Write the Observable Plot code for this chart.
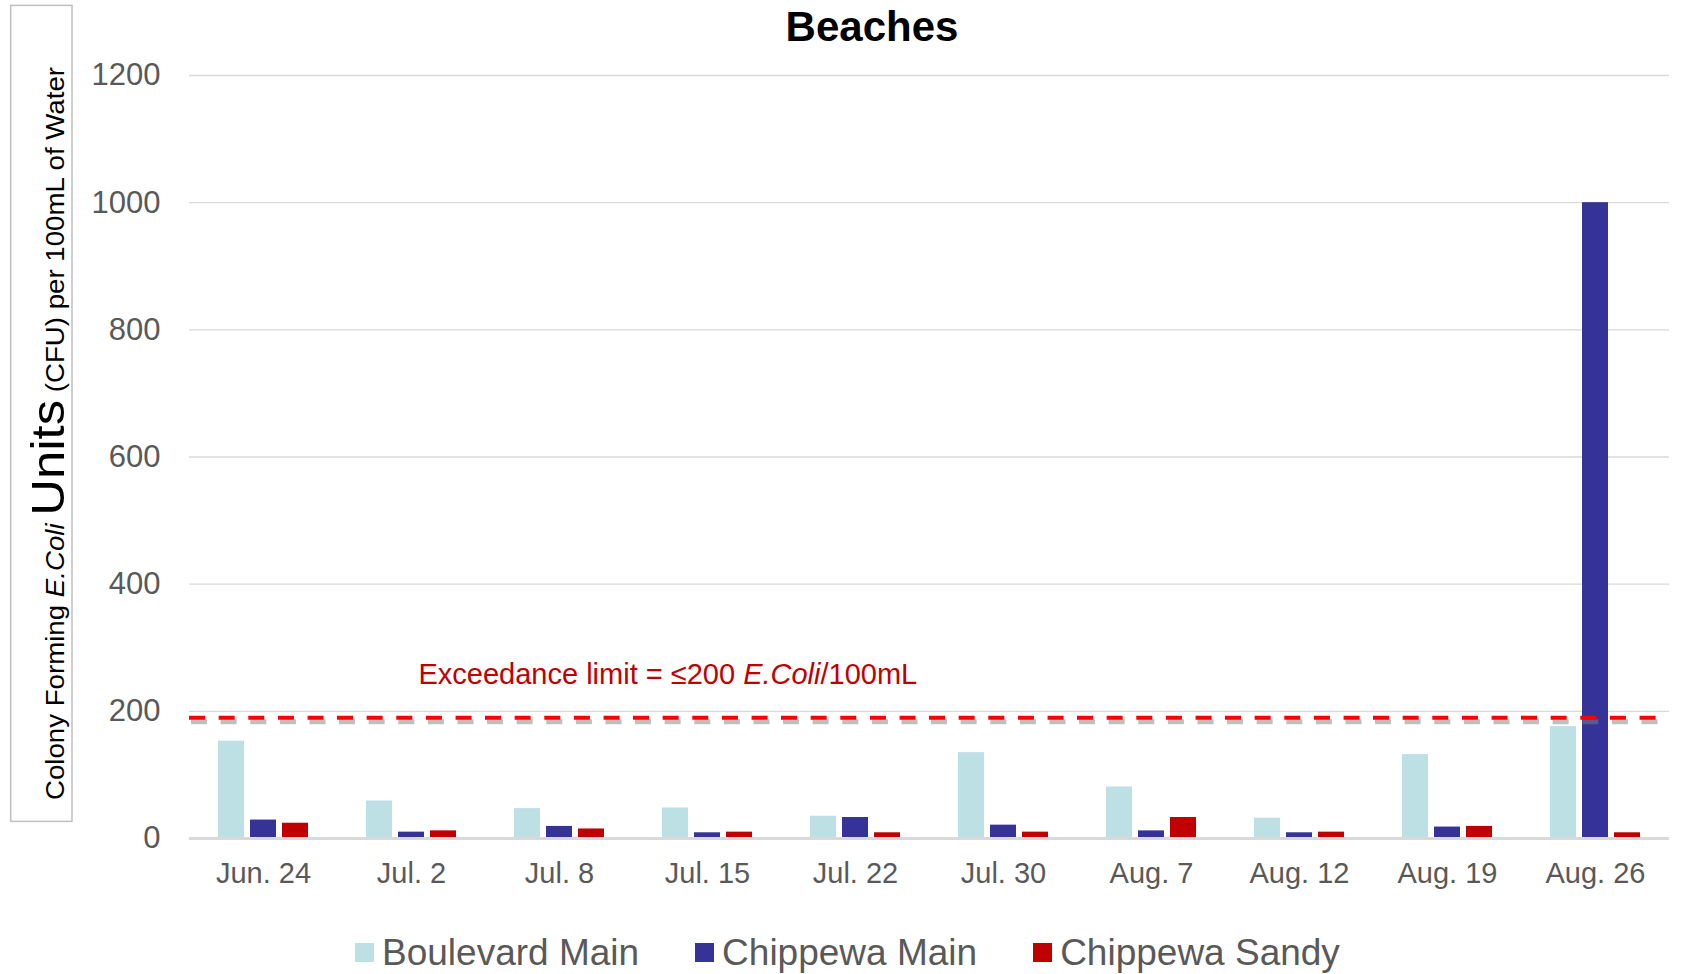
<!DOCTYPE html>
<html><head><meta charset="utf-8">
<script src="https://cdn.jsdelivr.net/npm/d3@7"></script>
<script src="https://cdn.jsdelivr.net/npm/@observablehq/plot@0.6"></script>
<style>
html,body{margin:0;padding:0;background:#fff;overflow:hidden;}
#wrap{position:relative;width:1684px;height:974px;font-family:"Liberation Sans",Arial,sans-serif;}
#chart{position:absolute;left:0;top:0;}
#overlay{position:absolute;left:0;top:0;pointer-events:none;}
#legend{position:absolute;left:355px;top:934px;display:flex;align-items:center;font-size:37px;line-height:37px;color:#595959;white-space:nowrap;}
.item{display:flex;align-items:center;margin-right:56px;}
.sw{width:19px;height:19px;margin-right:8px;}
</style></head>
<body><div id="wrap"><div id="chart"></div><svg id="overlay" width="1684" height="974"></svg><div id="legend"></div></div>
<script>
const dates = ["Jun. 24","Jul. 2","Jul. 8","Jul. 15","Jul. 22","Jul. 30","Aug. 7","Aug. 12","Aug. 19","Aug. 26"];
const series = ["Boulevard Main","Chippewa Main","Chippewa Sandy"];
const boulevardMain = [153, 59, 47, 48, 35, 135, 81, 32, 132, 176];
const chippewaMain = [29, 10, 19, 9, 33, 21, 12, 9, 18, 1000];
const chippewaSandy = [24, 12, 15, 10, 9, 10, 33, 10, 19, 9];
const colors = ["#bde0e4", "#363398", "#c00000"];
const yTicks = [0, 200, 400, 600, 800, 1000, 1200];
const limitValue = 190;
const limitLabelParts = ["Exceedance limit = \u2264200 ", "E.Coli", "/100mL"];
const limitLabelAt = {date: "Jul. 2", series: "Chippewa Main"};
const titleText = "Beaches";
const yLabelParts = [
  {t: "Colony Forming ", size: 25, italic: false},
  {t: "E.Coli", size: 25, italic: true},
  {t: " ", size: 25, italic: false},
  {t: "Units", size: 46, italic: false},
  {t: " (CFU) per 100mL of Water", size: 25, italic: false}
];

const valuesBySeries = [boulevardMain, chippewaMain, chippewaSandy];
const data = series.flatMap((s, i) => dates.map((d, j) => ({date: d, series: s, value: valuesBySeries[i][j]})));

const dash = "16,13.64";
const chart = Plot.plot({
  width: 1684,
  height: 900,
  marginTop: 75,
  marginBottom: 62,
  marginLeft: 188,
  marginRight: 14,
  style: {fontFamily: "'Liberation Sans', Arial, sans-serif", background: "transparent", color: "#595959"},
  fx: {domain: dates, padding: 0, label: null},
  x: {domain: series, paddingInner: 0.2, paddingOuter: 0.88, axis: null},
  y: {domain: [0, 1200], label: null},
  color: {domain: series, range: colors},
  marks: [
    Plot.gridY(yTicks.filter(t => t > 0), {stroke: "#d9d9d9", strokeOpacity: 1, strokeWidth: 1.4}),
    Plot.axisY(yTicks, {tickSize: 0, tickPadding: 29, fontSize: 31, fill: "#595959", label: null, tickFormat: d => String(d)}),
    Plot.axisFx({anchor: "bottom", tickSize: 0, tickPadding: 24, fontSize: 29, fill: "#595959", label: null}),
    Plot.barY(data, {fx: "date", x: "series", y: "value", fill: "series"}),
    Plot.ruleY([0], {stroke: "#d9d9d9", strokeWidth: 3}),
    Plot.ruleY([limitValue], {stroke: "#808081", strokeOpacity: 0.5, strokeWidth: 5, strokeDasharray: dash, dy: 4, dx: 2}),
    Plot.ruleY([limitValue], {stroke: "#ff0000", strokeWidth: 4, strokeDasharray: dash}),
    Plot.text([{...limitLabelAt, value: limitValue}], {fx: "date", x: "series", y: "value", text: () => limitLabelParts.join(""), textAnchor: "start", dx: 7, dy: -43, fill: "#c00000", fontSize: 29})
  ]
});
document.getElementById("chart").appendChild(chart);

const svg = d3.select(chart);
svg.insert("defs", ":first-child").append("filter").attr("id", "shblur")
  .attr("filterUnits", "userSpaceOnUse").attr("x", -50).attr("y", -50).attr("width", 1800).attr("height", 1000)
  .append("feGaussianBlur").attr("stdDeviation", 2.2);
svg.selectAll('g[aria-label="rule"]').filter(function(){ return this.getAttribute("stroke") === "#808081"; }).attr("filter", "url(#shblur)");
svg.selectAll("text").filter(function(){ return this.textContent === limitLabelParts.join(""); }).each(function(){
  const t = d3.select(this);
  t.text(null).style("white-space", "pre");
  limitLabelParts.forEach((p, i) => t.append("tspan").attr("font-style", i === 1 ? "italic" : null).text(p));
});

// overlay: title and y-axis label
const ov = d3.select("#overlay");
ov.append("text").attr("x", 872).attr("y", 41).attr("text-anchor", "middle")
  .attr("font-family", "'Liberation Sans', Arial, sans-serif").attr("font-weight", "bold").attr("font-size", 42).attr("fill", "#000").text(titleText);
ov.append("rect").attr("x", 10.7).attr("y", 5.4).attr("width", 61.3).attr("height", 816).attr("fill", "none").attr("stroke", "#bfbfbf").attr("stroke-width", 1.5);
const yl = ov.append("text").attr("transform", "translate(64,800) rotate(-90)").attr("text-anchor", "start")
  .attr("font-family", "'Liberation Sans', Arial, sans-serif").attr("fill", "#000").style("white-space", "pre")
  .attr("textLength", 733).attr("lengthAdjust", "spacingAndGlyphs");
yLabelParts.forEach(p => yl.append("tspan").attr("font-size", p.size).attr("font-style", p.italic ? "italic" : null).text(p.t));

// legend
const lg = d3.select("#legend");
series.forEach((s, i) => {
  const it = lg.append("div").attr("class", "item");
  it.append("div").attr("class", "sw").style("background", colors[i]);
  it.append("span").text(s);
});
</script>
</body></html>
